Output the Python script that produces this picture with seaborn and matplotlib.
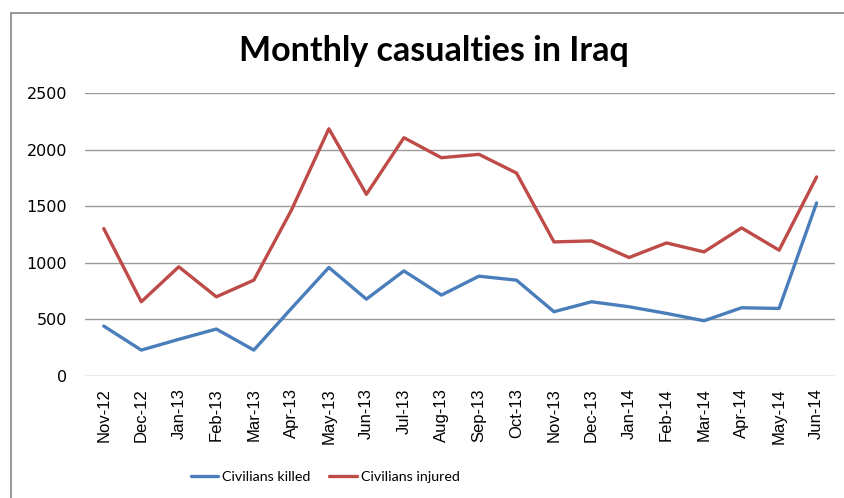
import pandas as pd
import seaborn as sns
import matplotlib.pyplot as plt
from matplotlib.lines import Line2D

# Data
months = ['Nov-12', 'Dec-12', 'Jan-13', 'Feb-13', 'Mar-13', 'Apr-13', 'May-13',
          'Jun-13', 'Jul-13', 'Aug-13', 'Sep-13', 'Oct-13', 'Nov-13', 'Dec-13',
          'Jan-14', 'Feb-14', 'Mar-14', 'Apr-14', 'May-14', 'Jun-14']
killed = [441, 229, 324, 415, 229, 597, 959, 679, 929, 715, 882, 847,
          568, 656, 612, 553, 488, 603, 597, 1529]
injured = [1303, 656, 965, 700, 847, 1465, 2185, 1606, 2106, 1929, 1959, 1794,
           1185, 1194, 1047, 1176, 1097, 1309, 1112, 1759]

df = pd.DataFrame({
    'Month': months * 2,
    'pos': list(range(len(months))) * 2,
    'Value': killed + injured,
    'Series': ['Civilians killed'] * len(months) + ['Civilians injured'] * len(months),
})

sns.set_style("white")
plt.rcParams['font.family'] = ['DejaVu Sans']
plt.rcParams['text.color'] = 'black'
plt.rcParams['xtick.color'] = 'black'
plt.rcParams['ytick.color'] = 'black'

fig = plt.figure(figsize=(8.45, 4.98), dpi=100)
ax = fig.add_axes([0.1006, 0.245, 0.888, 0.568])

palette = {'Civilians killed': '#4A7EBB', 'Civilians injured': '#BE4B48'}
sns.lineplot(data=df, x='pos', y='Value', hue='Series', palette=palette,
             linewidth=2.4, ax=ax, legend=False)

ax.set_xlim(-0.5, len(months) - 0.5)
ax.set_ylim(0, 2500)
ax.set_yticks(range(0, 2501, 500))
ax.set_xticks(range(len(months)))
ax.set_xticklabels(months, rotation=90, fontsize=12, family='Liberation Sans')
ax.tick_params(axis='y', labelsize=11.5, length=0, pad=13)
ax.tick_params(axis='x', length=0, pad=9)
ax.set_xlabel('')
ax.set_ylabel('')
ax.yaxis.grid(True, color='#9a9a9a', linewidth=1)
ax.set_axisbelow(True)
for s in ax.spines.values():
    s.set_visible(False)

fig.text(0.513, 0.898, 'Monthly casualties in Iraq', ha='center', va='center',
         fontsize=24.5, fontweight='bold', family='Lato', color='black')

handles = [Line2D([], [], color=palette[k], linewidth=2.4) for k in palette]
fig.legend(handles, list(palette.keys()), loc='center', bbox_to_anchor=(0.385, 0.043),
           ncol=2, frameon=False, handlelength=1.9, handletextpad=0.3,
           columnspacing=1.3, prop={'family': 'Lato', 'size': 10.3})

# chart border (left and top edges visible in the crop)
fig.add_artist(Line2D([11 / 845, 11 / 845], [0, 0.974], color='#888888', linewidth=1.2))
fig.add_artist(Line2D([11 / 845, 1], [0.974, 0.974], color='#888888', linewidth=1.2))

fig.savefig('out.png', dpi=100)
